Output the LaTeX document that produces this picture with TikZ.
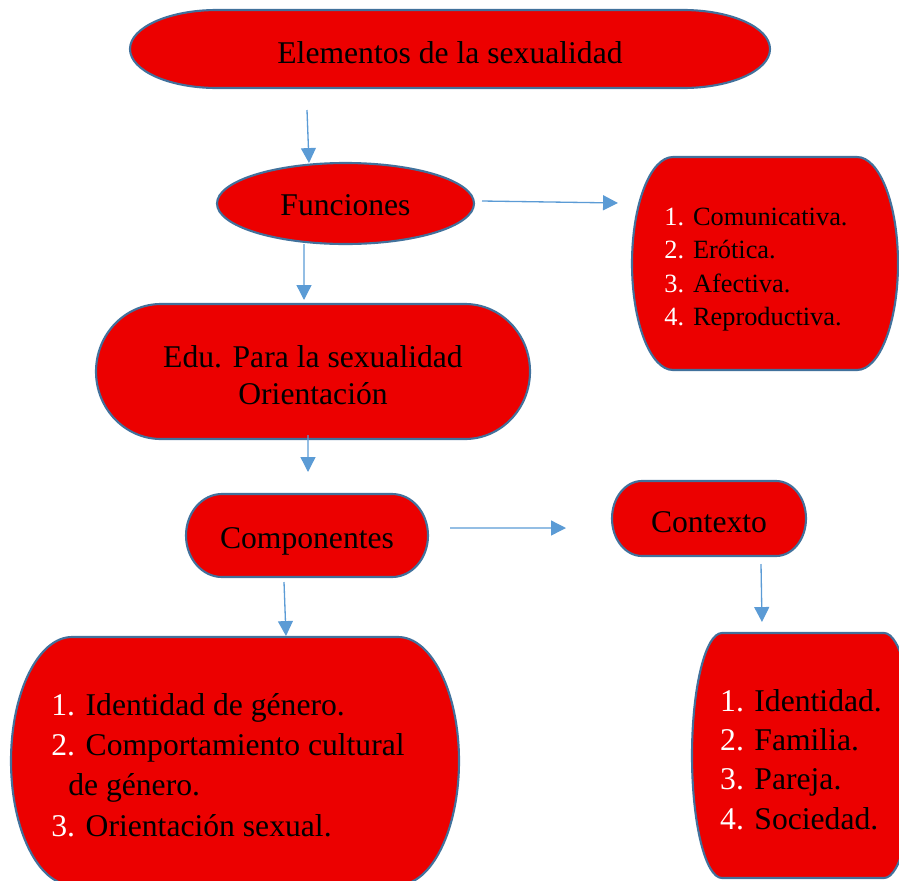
\documentclass[tikz,border=0pt]{standalone}
\usepackage{fontspec}
\setmainfont{Liberation Serif}
\usepackage{tikz}
\usetikzlibrary{calc,arrows.meta,backgrounds,positioning}
\definecolor{boxred}{RGB}{236,0,0}
\definecolor{boxedge}{RGB}{65,113,156}
\definecolor{arrowblue}{RGB}{91,155,213}
\newcommand{\itemno}[1]{\textcolor{white}{#1}}
% rounded outline around a node: name, x radius, y radius
\newcommand{\blob}[3]{%
  \path[blobline] ([xshift=#2]#1.north west) -- ([xshift=-#2]#1.north east)
    arc[start angle=90,end angle=0,x radius=#2,y radius=#3]
    -- ([yshift=#3]#1.south east)
    arc[start angle=0,end angle=-90,x radius=#2,y radius=#3]
    -- ([xshift=#2]#1.south west)
    arc[start angle=-90,end angle=-180,x radius=#2,y radius=#3]
    -- ([yshift=-#3]#1.north west)
    arc[start angle=180,end angle=90,x radius=#2,y radius=#3] -- cycle;}

\begin{document}
\begin{tikzpicture}

\tikzstyle{box}=[inner sep=0pt,outer sep=0pt]
\tikzstyle{txt}=[inner sep=0pt,align=center,font=\fontsize{18}{21}\selectfont]
\tikzstyle{listtxt}=[txt,align=left,font=\fontsize{18}{23}\selectfont]
\tikzstyle{flow}=[arrowblue,line width=0.75pt,-{Triangle[length=8.5pt,width=8.5pt]}]
\tikzstyle{blobline}=[fill=boxred,draw=boxedge,line width=1.2pt]

\useasboundingbox (0,0) rectangle (17.98,-17.6);

\node[box,minimum width=12.8cm,minimum height=1.56cm] (elem) at (9.0,-0.98) {};
\node[box,minimum width=5.14cm,minimum height=1.62cm] (fun) at (6.91,-4.07) {};
\node[box,minimum width=5.32cm,minimum height=4.26cm] (funlist) at (15.3,-5.27) {};
\node[box,minimum width=8.68cm,minimum height=2.7cm] (edu) at (6.26,-7.43) {};
\node[box,minimum width=4.84cm,minimum height=1.66cm] (comp) at (6.14,-10.71) {};
\node[box,minimum width=3.88cm,minimum height=1.5cm] (ctx) at (14.18,-10.37) {};
\node[box,minimum width=8.96cm,minimum height=4.96cm] (complist) at (4.7,-15.22) {};
\node[box,minimum width=4.44cm,minimum height=4.9cm] (ctxlist) at (16.06,-15.11) {};

\node[txt] (elemtxt) at ([yshift=-0.08cm]elem.center) {Elementos de la sexualidad};
\node[txt] (funtxt) at ([yshift=-0.04cm]fun.center) {Funciones};
\node[listtxt,font=\fontsize{15}{19}\selectfont] (funlisttxt) at ([shift={(-0.18,-0.12)}]funlist.center)
  {\itemno{1.} Comunicativa.\\ \itemno{2.} Erótica.\\ \itemno{3.} Afectiva.\\ \itemno{4.} Reproductiva.};
\node[txt] (edutxt) at ([yshift=-0.07cm]edu.center) {Edu. Para la sexualidad\\ Orientación};
\node[txt] (comptxt) at ([yshift=-0.12cm]comp.center) {Componentes};
\node[txt] (ctxtxt) at ([yshift=-0.08cm]ctx.center) {Contexto};
\node[listtxt] (complisttxt) at ([shift={(-0.14,-0.08)}]complist.center)
  {\itemno{1.} Identidad de género.\\ \itemno{2.} Comportamiento cultural\\ \hspace*{9.6pt}de género.\\ \itemno{3.} Orientación sexual.};
\node[listtxt,font=\fontsize{18}{22.4}\selectfont] (ctxlisttxt) at ([shift={(-0.04,-0.08)}]ctxlist.center)
  {\itemno{1.} Identidad.\\ \itemno{2.} Familia.\\ \itemno{3.} Pareja.\\ \itemno{4.} Sociedad.};

\begin{scope}[on background layer]
\blob{elem}{1.74cm}{0.78cm}
\blob{fun}{2.57cm}{0.81cm}
\blob{funlist}{0.82cm}{2.13cm}
\blob{edu}{1.3cm}{1.35cm}
\blob{comp}{0.72cm}{0.83cm}
\blob{ctx}{0.6cm}{0.75cm}
\blob{complist}{1.22cm}{2.48cm}
\blob{ctxlist}{0.6cm}{2.45cm}
\end{scope}

\draw[flow] ([shift={(-2.86,-0.44)}]elem.south) -- ([xshift=-0.73cm]fun.north);
\draw[flow] ([shift={(0.16,0.05)}]fun.east) -- ([shift={(-0.28,1.21)}]funlist.west);
\draw[flow] ([xshift=-0.83cm]fun.south) -- ([shift={(-0.18,0.08)}]edu.north);
\draw[flow] ([shift={(-0.1,0.08)}]edu.south) -- ([shift={(0.02,0.44)}]comp.north);
\draw[flow] ([shift={(0.44,0.15)}]comp.east) -- ([shift={(-0.92,-0.19)}]ctx.west);
\draw[flow] ([shift={(1.04,-0.16)}]ctx.south) -- ([shift={(-0.82,0.22)}]ctxlist.north);
\draw[flow] ([shift={(-0.46,-0.1)}]comp.south) -- ([shift={(1.02,0.02)}]complist.north);

\end{tikzpicture}
\end{document}
